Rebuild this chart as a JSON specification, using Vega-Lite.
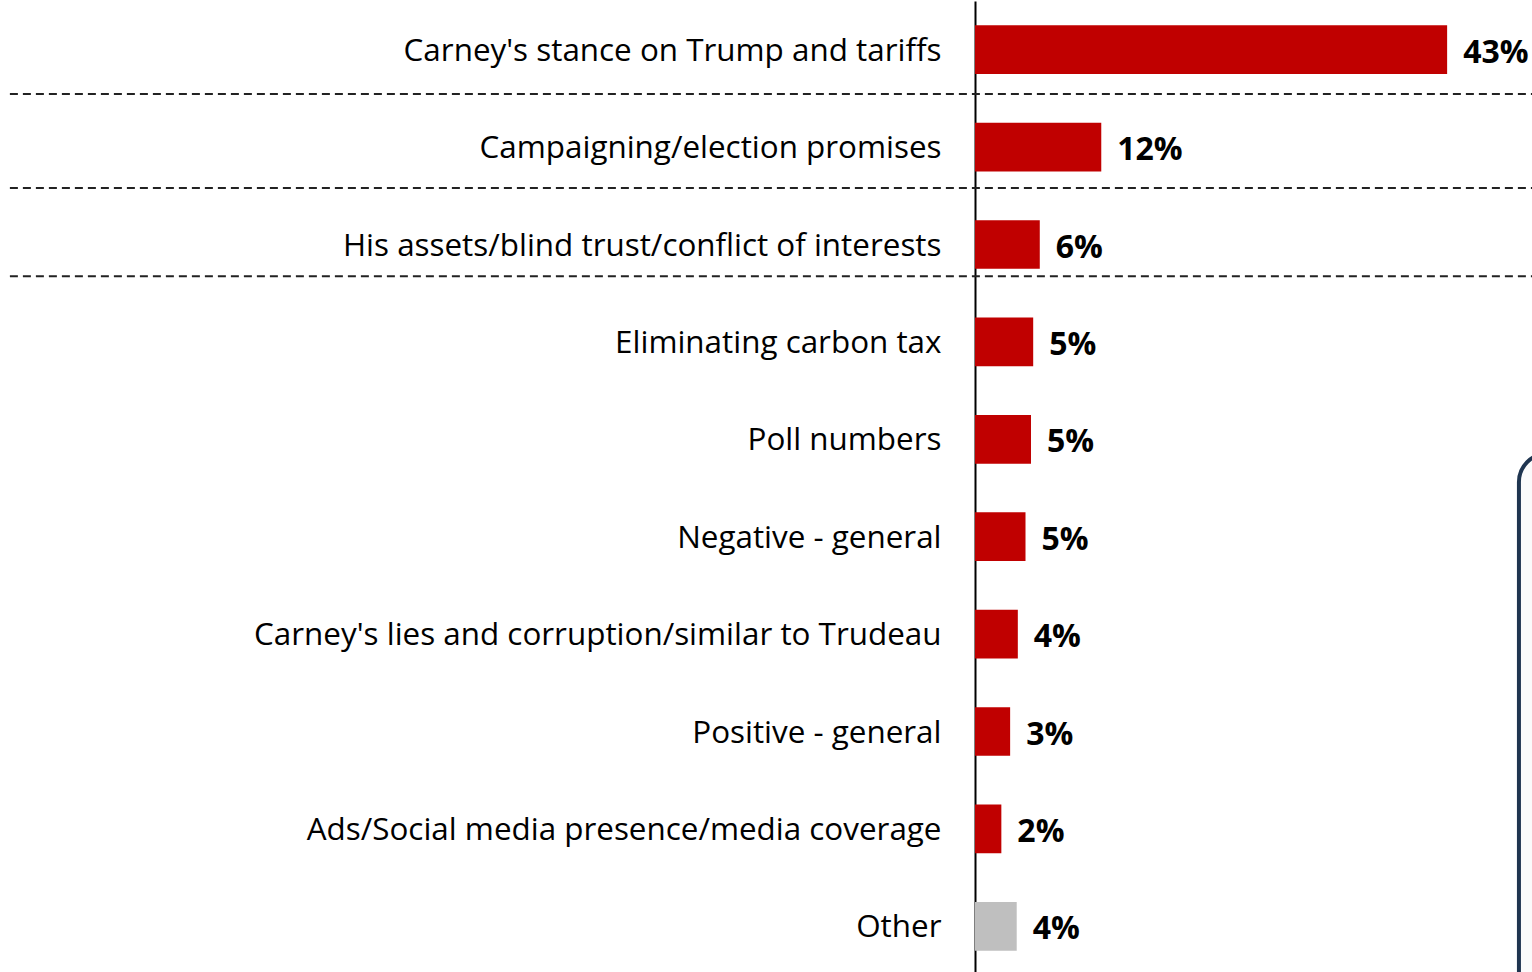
{
  "$schema": "https://vega.github.io/schema/vega-lite/v6.json",
  "autosize": "none",
  "width": 557,
  "height": 974,
  "padding": {"left": 975, "top": 1, "right": 0, "bottom": 0},
  "background": "white",
  "config": {"view": {"stroke": null}},
  "datasets": {
    "main": [
      {"category": "Carney's stance on Trump and tariffs", "value": 43, "label": "43%", "group": "topic"},
      {"category": "Campaigning/election promises", "value": 11.5, "label": "12%", "group": "topic"},
      {"category": "His assets/blind trust/conflict of interests", "value": 5.9, "label": "6%", "group": "topic"},
      {"category": "Eliminating carbon tax", "value": 5.3, "label": "5%", "group": "topic"},
      {"category": "Poll numbers", "value": 5.1, "label": "5%", "group": "topic"},
      {"category": "Negative - general", "value": 4.6, "label": "5%", "group": "topic"},
      {"category": "Carney's lies and corruption/similar to Trudeau", "value": 3.9, "label": "4%", "group": "topic"},
      {"category": "Positive - general", "value": 3.2, "label": "3%", "group": "topic"},
      {"category": "Ads/Social media presence/media coverage", "value": 2.4, "label": "2%", "group": "topic"},
      {"category": "Other", "value": 3.8, "label": "4%", "group": "other"}
    ]
  },
  "data": {"name": "main"},
  "encoding": {
    "y": {
      "field": "category",
      "type": "nominal",
      "sort": null,
      "scale": {"paddingInner": 0.5, "paddingOuter": 0.25},
      "axis": {
        "title": null,
        "ticks": false,
        "domainColor": "#000000",
        "domainWidth": 2,
        "labelPadding": 34,
        "labelOffset": 2,
        "labelFont": "Open Sans",
        "labelFontSize": 31.4,
        "labelColor": "#000000",
        "labelLimit": 960
      }
    }
  },
  "layer": [
    {
      "mark": {"type": "bar"},
      "encoding": {
        "x": {"field": "value", "type": "quantitative", "scale": {"domain": [0, 50.73], "nice": false, "zero": false}, "axis": null},
        "color": {"field": "group", "type": "nominal", "scale": {"domain": ["topic", "other"], "range": ["#C00000", "#BFBFBF"]}, "legend": null}
      }
    },
    {
      "mark": {"type": "text", "align": "left", "baseline": "middle", "dx": 16, "dy": 3, "font": "Open Sans", "fontSize": 32, "fontWeight": "bold", "color": "#000000"},
      "encoding": {
        "x": {"field": "value", "type": "quantitative"},
        "text": {"field": "label"}
      }
    },
    {
      "data": {"values": [{"category": "Carney's stance on Trump and tariffs"}]},
      "mark": {"type": "rule", "strokeDash": [8, 5], "strokeWidth": 2, "color": "#222222", "clip": false},
      "encoding": {
        "y": {"field": "category", "type": "nominal", "bandPosition": 1.41},
        "x": {"datum": -87.9, "type": "quantitative"},
        "x2": {"datum": 50.73}
      }
    },
    {
      "data": {"values": [{"category": "Campaigning/election promises"}]},
      "mark": {"type": "rule", "strokeDash": [8, 5], "strokeWidth": 2, "color": "#222222", "clip": false},
      "encoding": {
        "y": {"field": "category", "type": "nominal", "bandPosition": 1.34},
        "x": {"datum": -87.9, "type": "quantitative"},
        "x2": {"datum": 50.73}
      }
    },
    {
      "data": {"values": [{"category": "His assets/blind trust/conflict of interests"}]},
      "mark": {"type": "rule", "strokeDash": [8, 5], "strokeWidth": 2, "color": "#222222", "clip": false},
      "encoding": {
        "y": {"field": "category", "type": "nominal", "bandPosition": 1.15},
        "x": {"datum": -87.9, "type": "quantitative"},
        "x2": {"datum": 50.73}
      }
    },
    {
      "data": {"values": [{"top": "Poll numbers", "bottom": "Other"}]},
      "mark": {"type": "rect", "fill": "#FBFBFB", "stroke": "#1F3550", "strokeWidth": 4, "cornerRadius": 28, "clip": false},
      "encoding": {
        "y": {"field": "top", "type": "nominal", "bandPosition": 0.8},
        "y2": {"field": "bottom", "bandPosition": 2},
        "x": {"datum": 49.54, "type": "quantitative"},
        "x2": {"datum": 60}
      }
    }
  ]
}
